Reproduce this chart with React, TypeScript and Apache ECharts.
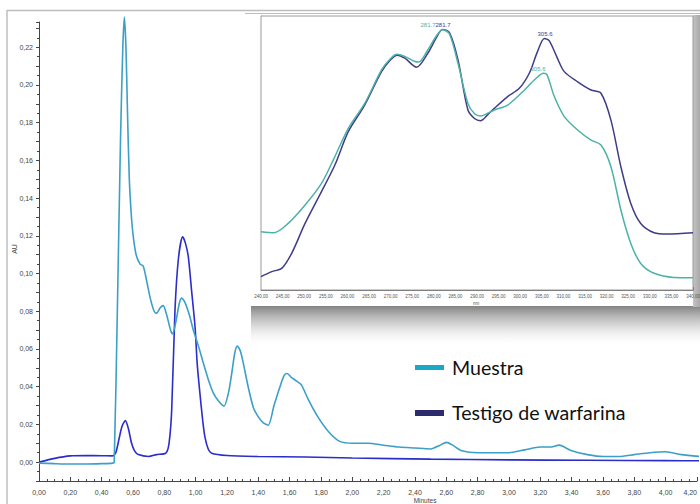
import React, { useEffect, useRef } from "react";
import * as echarts from "echarts";

// ---- Main chromatogram (time in minutes, AU) ----
const muestraTime = [0, 0.1, 0.2, 0.3, 0.4, 0.47, 0.48, 0.5, 0.52, 0.535, 0.545, 0.555, 0.565, 0.576, 0.59, 0.602, 0.62, 0.645, 0.665, 0.685, 0.71, 0.735, 0.751, 0.775, 0.793, 0.815, 0.84, 0.853, 0.875, 0.895, 0.91, 0.93, 0.96, 0.985, 1.02, 1.049, 1.08, 1.113, 1.15, 1.181, 1.21, 1.23, 1.25, 1.266, 1.285, 1.304, 1.335, 1.368, 1.4, 1.43, 1.463, 1.5, 1.538, 1.565, 1.585, 1.61, 1.645, 1.675, 1.72, 1.78, 1.85, 1.92, 2.0, 2.1, 2.2, 2.3, 2.4, 2.5, 2.56, 2.6, 2.64, 2.7, 2.8, 2.9, 3.0, 3.1, 3.2, 3.27, 3.32, 3.4, 3.5, 3.6, 3.7, 3.8, 3.9, 4.0, 4.1, 4.22];
const muestraAU = [-0.0005, -0.0008, -0.001, -0.001, -0.0008, -0.0005, 0.0, 0.08, 0.17, 0.22, 0.236, 0.22, 0.185, 0.151, 0.13, 0.1195, 0.11, 0.105, 0.104, 0.097, 0.087, 0.08, 0.079, 0.082, 0.083, 0.078, 0.07, 0.068, 0.075, 0.084, 0.087, 0.085, 0.078, 0.07, 0.061, 0.0525, 0.044, 0.0366, 0.032, 0.0297, 0.037, 0.047, 0.058, 0.0615, 0.059, 0.0525, 0.04, 0.029, 0.024, 0.021, 0.0196, 0.03, 0.04, 0.046, 0.047, 0.045, 0.043, 0.041, 0.033, 0.024, 0.016, 0.011, 0.01, 0.01, 0.009, 0.008, 0.0075, 0.007, 0.009, 0.0105, 0.009, 0.006, 0.005, 0.005, 0.005, 0.0065, 0.008, 0.008, 0.009, 0.006, 0.004, 0.003, 0.003, 0.004, 0.005, 0.0055, 0.004, 0.003];

const testigoTime = [0, 0.1, 0.2, 0.3, 0.4, 0.47, 0.49, 0.51, 0.53, 0.551, 0.57, 0.591, 0.61, 0.634, 0.7, 0.75, 0.81, 0.83, 0.847, 0.868, 0.89, 0.917, 0.935, 0.953, 0.975, 0.996, 1.01, 1.027, 1.045, 1.059, 1.08, 1.102, 1.2, 1.4, 1.7, 2.0, 2.5, 3.0, 3.5, 4.0, 4.22];
const testigoAU = [0.0, 0.002, 0.0033, 0.0035, 0.0034, 0.0033, 0.005, 0.012, 0.019, 0.022, 0.018, 0.01, 0.006, 0.004, 0.003, 0.004, 0.0048, 0.01, 0.0276, 0.0806, 0.108, 0.1195, 0.116, 0.109, 0.09, 0.0718, 0.052, 0.0366, 0.022, 0.0134, 0.007, 0.0047, 0.0035, 0.003, 0.0027, 0.0022, 0.0016, 0.0012, 0.001, 0.0008, 0.0007];

// ---- Inset UV spectra (nm, relative absorbance) ----
const insetMuestraNm = [240, 243, 246.3, 250.2, 254, 257.1, 260.2, 264, 267.9, 270, 271.5, 273.3, 275.5, 276.5, 278.6, 280.5, 282, 283.6, 285.6, 287.9, 289.5, 290.8, 292.5, 294, 297.1, 301, 303.5, 305.4, 306.2, 307.9, 310.2, 313.3, 316.4, 318.7, 321, 323.3, 325.6, 327.9, 331, 335.6, 340];
const insetMuestraAbs = [0.213, 0.209, 0.243, 0.31, 0.389, 0.487, 0.59, 0.681, 0.803, 0.845, 0.86, 0.852, 0.835, 0.832, 0.876, 0.925, 0.95, 0.935, 0.827, 0.681, 0.642, 0.635, 0.645, 0.657, 0.675, 0.73, 0.77, 0.791, 0.786, 0.706, 0.633, 0.584, 0.547, 0.529, 0.45, 0.292, 0.17, 0.097, 0.061, 0.046, 0.045];
const insetTestigoNm = [240, 242.5, 244.8, 247.1, 250.2, 254, 257.1, 260.2, 264, 267.9, 270, 271.5, 273.3, 276, 278.6, 280.5, 282, 283.6, 285.6, 287.9, 289.5, 290.8, 292.5, 294, 297.1, 299.8, 302.1, 304, 305.6, 306.7, 308.5, 310.2, 313.3, 316.4, 318.7, 321, 323.3, 325.6, 327.9, 331, 334, 340];
const insetTestigoAbs = [0.049, 0.067, 0.079, 0.134, 0.243, 0.359, 0.456, 0.578, 0.675, 0.797, 0.84, 0.857, 0.846, 0.813, 0.864, 0.918, 0.951, 0.94, 0.84, 0.657, 0.625, 0.618, 0.64, 0.663, 0.706, 0.736, 0.791, 0.87, 0.918, 0.91, 0.85, 0.797, 0.76, 0.73, 0.718, 0.62, 0.45, 0.316, 0.243, 0.209, 0.204, 0.209];

const seriesNames = ["Muestra", "Testigo de warfarina"];
const insetPeakLabels = ["281.7", "281.7", "305.6", "305.6"];

const zip = (a: number[], b: number[]) => a.map((x, i) => [x, b[i]]);
const comma = (v: number, d: number) => v.toFixed(d).replace(".", ",");

export default function App() {
  const ref = useRef<HTMLDivElement>(null);
  useEffect(() => {
    if (!ref.current) return;
    const chart = echarts.init(ref.current, null, { renderer: "svg" });
    const axisCol = "#444";
    const option: any = {
      animation: false,
      backgroundColor: "#ffffff",
      grid: [
        { left: 39, top: 22, right: 3, bottom: 23, show: false, containLabel: false, outerBoundsMode: "none" },
        { left: 261, top: 16, width: 432, height: 274, show: true, borderColor: "#9a9a9a", borderWidth: 1, backgroundColor: "#ffffff", z: 3, containLabel: false, outerBoundsMode: "none" },
      ],
      xAxis: [
        {
          type: "value", gridIndex: 0, min: 0, max: 4.2, interval: 0.2,
          axisLine: { onZero: false, lineStyle: { color: axisCol, width: 1 } },
          axisTick: { inside: true, length: 4, lineStyle: { color: axisCol } },
          minorTick: { show: true, splitNumber: 4, length: 2, lineStyle: { color: axisCol } },
          splitLine: { show: false },
          axisLabel: {
            fontSize: 7, color: "#444", margin: 8, fontFamily: "Liberation Sans", alignMaxLabel: "right",
            formatter: (v: number) => {
              const k = Math.round(v / 0.2);
              if (Math.abs(v - k * 0.2) > 1e-6) return "";
              return comma(k * 0.2, 2);
            },
          },
        },
        {
          type: "value", gridIndex: 1, min: 240, max: 340, interval: 5,
          axisLine: { onZero: false, lineStyle: { color: "#666", width: 1 } },
          axisTick: { inside: true, length: 3, lineStyle: { color: "#666" } },
          minorTick: { show: true, splitNumber: 5, length: 1.5, lineStyle: { color: "#666" } },
          splitLine: { show: false },
          axisLabel: {
            fontSize: 4.5, color: "#555", margin: 4, fontFamily: "Liberation Sans",
            formatter: (v: number) => (Math.abs(v - Math.round(v / 5) * 5) > 1e-6 ? "" : comma(v, 2)),
          },
        },
      ],
      yAxis: [
        {
          type: "value", gridIndex: 0, min: -0.01, max: 0.2334, interval: 0.01,
          axisLine: { show: true, onZero: false, lineStyle: { color: axisCol, width: 1 } },
          axisTick: { show: true, length: 3, lineStyle: { color: axisCol } },
          minorTick: { show: true, splitNumber: 2, length: 2, lineStyle: { color: axisCol } },
          splitLine: { show: false },
          axisLabel: {
            fontSize: 7, color: "#444", margin: 6, fontFamily: "Liberation Sans",
            formatter: (v: number) => {
              const k = Math.round(v * 100);
              if (Math.abs(v * 100 - k) > 1e-4 || k < 0 || k % 2 !== 0) return "";
              return comma(k / 100, 2);
            },
          },
        },
        {
          type: "value", gridIndex: 1, min: 0, max: 1,
          axisLine: { show: true, onZero: false, lineStyle: { color: "#9a9a9a" } },
          axisTick: { show: false }, axisLabel: { show: false }, splitLine: { show: false },
        },
      ],
      series: [
        {
          name: seriesNames[0], type: "line", xAxisIndex: 0, yAxisIndex: 0,
          data: zip(muestraTime, muestraAU), showSymbol: false, smooth: 0.25, clip: false,
          lineStyle: { color: "#3c9fc8", width: 1.6 }, z: 3,
        },
        {
          name: seriesNames[1], type: "line", xAxisIndex: 0, yAxisIndex: 0,
          data: zip(testigoTime, testigoAU), showSymbol: false, smooth: 0.25, clip: false,
          lineStyle: { color: "#2b2dcc", width: 1.6 }, z: 2,
        },
        {
          name: seriesNames[0] + " UV", type: "line", xAxisIndex: 1, yAxisIndex: 1,
          data: zip(insetMuestraNm, insetMuestraAbs), showSymbol: false, smooth: 0.3,
          lineStyle: { color: "#4db2a6", width: 1.5 }, z: 5,
        },
        {
          name: seriesNames[1] + " UV", type: "line", xAxisIndex: 1, yAxisIndex: 1,
          data: zip(insetTestigoNm, insetTestigoAbs), showSymbol: false, smooth: 0.3,
          lineStyle: { color: "#3f3c88", width: 1.5 }, z: 4,
        },
      ],
      graphic: [
        // outer screenshot frame
        { type: "line", z: -5, shape: { x1: 7, y1: 10, x2: 7, y2: 504 }, style: { stroke: "#cfcfcf", lineWidth: 2 } },
        { type: "line", z: -5, shape: { x1: 7, y1: 10.5, x2: 700, y2: 10.5 }, style: { stroke: "#bdbdbd", lineWidth: 1.5 } },
        { type: "line", z: -5, shape: { x1: 245, y1: 13.5, x2: 700, y2: 13.5 }, style: { stroke: "#bdbdbd", lineWidth: 1 } },
        // inset shadow
        {
          type: "rect", z: -6, shape: { x: 251, y: 305, width: 449, height: 42 },
          style: { fill: new echarts.graphic.LinearGradient(0, 0, 0, 1, [
            { offset: 0, color: "rgba(110,110,110,0.9)" },
            { offset: 0.5, color: "rgba(180,180,180,0.5)" },
            { offset: 1, color: "rgba(255,255,255,0)" },
          ]) },
        },
        {
          type: "rect", z: -6, shape: { x: 693, y: 15, width: 7, height: 292 },
          style: { fill: new echarts.graphic.LinearGradient(0, 0, 1, 0, [
            { offset: 0, color: "#c4c4c4" },
            { offset: 1, color: "#a8a8a8" },
          ]) },
        },
        { type: "rect", z: -4, shape: { x: 251, y: 14, width: 442, height: 292 }, style: { fill: "#ffffff" } },
        // main y-axis name
        { type: "text", z: 20, x: 14, y: 249, rotation: Math.PI / 2, style: { text: "AU", fontSize: 7, fill: "#444", align: "center", verticalAlign: "middle", fontFamily: "Liberation Sans" } },
        // inset labels
        { type: "text", z: 20, x: 476, y: 303, style: { text: "nm", fontSize: 4.5, fill: "#555", align: "center", verticalAlign: "middle", fontFamily: "Liberation Sans" } },
        { type: "text", z: 20, x: 428, y: 25, style: { text: insetPeakLabels[0], fontSize: 6, fill: "#4db2a6", align: "center", verticalAlign: "middle", fontFamily: "Liberation Sans" } },
        { type: "text", z: 20, x: 443, y: 25, style: { text: insetPeakLabels[1], fontSize: 6, fill: "#3f3c88", align: "center", verticalAlign: "middle", fontFamily: "Liberation Sans" } },
        { type: "text", z: 20, x: 545, y: 34, style: { text: insetPeakLabels[2], fontSize: 6, fill: "#3f3c88", align: "center", verticalAlign: "middle", fontFamily: "Liberation Sans" } },
        { type: "text", z: 20, x: 538, y: 69, style: { text: insetPeakLabels[3], fontSize: 6, fill: "#4db2a6", align: "center", verticalAlign: "middle", fontFamily: "Liberation Sans" } },
        // main x-axis name
        { type: "text", z: 20, x: 425, y: 500, style: { text: "Minutes", fontSize: 6.5, fill: "#444", align: "center", verticalAlign: "middle", fontFamily: "Liberation Sans" } },
        // legend
        { type: "rect", z: 20, shape: { x: 415, y: 365, width: 29, height: 5 }, style: { fill: "#1aa9c5" } },
        { type: "text", z: 20, x: 452, y: 367, style: { text: seriesNames[0], fontSize: 19.6, fill: "#111", verticalAlign: "middle", fontFamily: "Lato" } },
        { type: "rect", z: 20, shape: { x: 415, y: 410, width: 29, height: 6 }, style: { fill: "#2b2b6e" } },
        { type: "text", z: 20, x: 452, y: 412, style: { text: seriesNames[1], fontSize: 19.6, fill: "#111", verticalAlign: "middle", fontFamily: "Lato" } },
      ],
    };
    chart.setOption(option);
    return () => chart.dispose();
  }, []);
  return <div ref={ref} style={{ position: "fixed", left: 0, top: 0, width: 700, height: 504 }} />;
}
